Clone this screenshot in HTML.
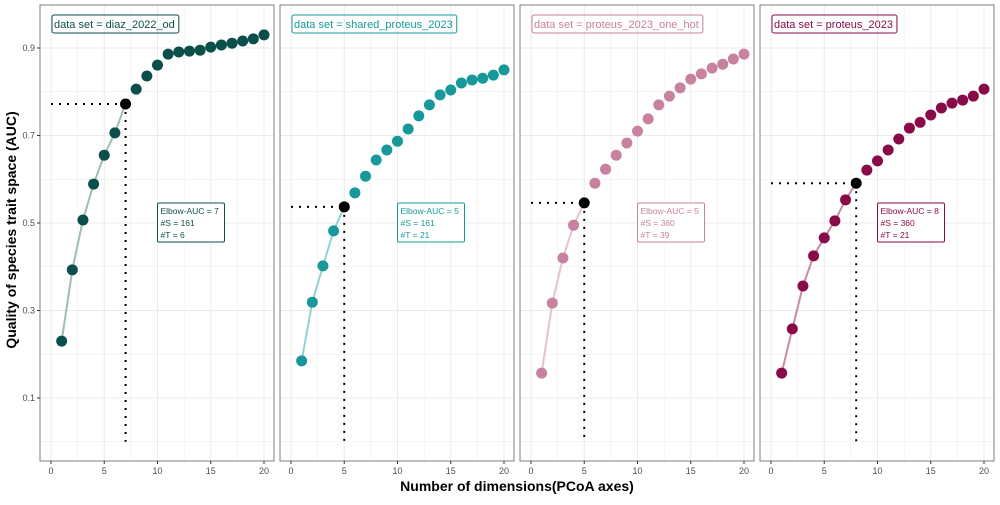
<!DOCTYPE html>
<html><head><meta charset="utf-8"><style>
body{margin:0;background:#fff;font-family:"Liberation Sans",sans-serif;}
svg text{font-family:"Liberation Sans",sans-serif;}
</style></head><body>
<svg id="chart" width="1000" height="500" xmlns="http://www.w3.org/2000/svg">
<text x="0" y="0" transform="translate(16,230) rotate(-90)" text-anchor="middle" font-size="14" font-weight="bold" fill="#000">Quality of species trait space (AUC)</text>
<text x="517" y="491" text-anchor="middle" font-size="14" font-weight="bold" fill="#000">Number of dimensions(PCoA axes)</text>
</svg>
<script>
const datasets = ["diaz_2022_od","shared_proteus_2023","proteus_2023_one_hot","proteus_2023"];
const dims = [1,2,3,4,5,6,7,8,9,10,11,12,13,14,15,16,17,18,19,20];
const aucDiaz = [0.230,0.393,0.507,0.589,0.655,0.706,0.772,0.806,0.836,0.861,0.886,0.891,0.893,0.895,0.902,0.907,0.911,0.916,0.921,0.930];
const aucShared = [0.185,0.319,0.402,0.482,0.537,0.569,0.607,0.644,0.667,0.687,0.715,0.745,0.770,0.793,0.804,0.820,0.827,0.831,0.838,0.850];
const aucOneHot = [0.157,0.317,0.420,0.495,0.546,0.591,0.623,0.655,0.683,0.710,0.738,0.770,0.790,0.809,0.829,0.841,0.854,0.863,0.875,0.886];
const aucProteus = [0.157,0.258,0.356,0.425,0.466,0.505,0.553,0.591,0.621,0.642,0.667,0.692,0.717,0.730,0.747,0.763,0.774,0.781,0.790,0.806];
const elbows = [7,5,5,8];
const nSpecies = [161,161,360,360];
const nTraits = [6,21,39,21];
const yTicks = [0.1,0.3,0.5,0.7,0.9];
const xTicks = [0,5,10,15,20];

const series=[aucDiaz,aucShared,aucOneHot,aucProteus];
const dark=["#0b4f4b","#17999b","#c8819f","#8a0a47"];
const light=["#9dbdb9","#8fd4d4","#e6c2d1","#c58ba7"];
const svg=document.getElementById('chart');
const NS="http://www.w3.org/2000/svg";
function mk(tag,attrs,parent){const e=document.createElementNS(NS,tag);for(const k in attrs)e.setAttribute(k,attrs[k]);(parent||svg).appendChild(e);return e;}
const panelL=[40,280,520,760], panelW=234, pTop=5, pBot=461;
function yS(v){return 48+(0.9-v)*437.5;}
function xS(p,d){return panelL[p]+11+d*10.65;}
for(let p=0;p<4;p++){
  const g=mk('g',{});
  
  
  mk('rect',{x:panelL[p],y:pTop,width:panelW,height:pBot-pTop,fill:'#fff'},g);
  for(let k=0;k<=10;k++){const v=k/10;const y=yS(v);if(y<pTop||y>pBot)continue;
    const major=k%2===1;
    mk('line',{x1:panelL[p],x2:panelL[p]+panelW,y1:y,y2:y,stroke:'#ebebeb','stroke-width':major?1:0.5},g);}
  for(let d=0;d<=20;d+=2.5){const x=xS(p,d);mk('line',{x1:x,x2:x,y1:pTop,y2:pBot,stroke:'#ebebeb','stroke-width':d%5===0?1:0.5},g);}
  const data=series[p], e=elbows[p];
  const ex=xS(p,e), ey=yS(data[e-1]);
  const hl=mk('line',{x1:xS(p,0),x2:ex,y1:ey,y2:ey,stroke:'#000','stroke-width':2,'stroke-dasharray':'2,6'},g);
  
  
  const vl=mk('line',{x1:ex,x2:ex,y1:ey,y2:yS(0),stroke:'#000','stroke-width':2,'stroke-dasharray':'2,6'},g);
  
  
  let pts=[];for(let i=0;i<e;i++)pts.push(xS(p,dims[i])+','+yS(data[i]));
  const pl=mk('polyline',{points:pts.join(' '),fill:'none',stroke:light[p],'stroke-width':2},g);
  
  
  for(let i=0;i<dims.length;i++){
    const isE=dims[i]===e;
    const c=mk('circle',{cx:xS(p,dims[i]),cy:yS(data[i]),r:5.5,fill:isE?'#000':dark[p]},g);
    
    
  }
  const bx=xS(p,10), by=203;
  const br=mk('rect',{x:bx,y:by,width:67,height:39,rx:1.5,fill:'#fff',stroke:dark[p],'stroke-width':1},g);
  
  
  const lines=['Elbow-AUC = '+e,'#S = '+nSpecies[p],'#T = '+nTraits[p]];
  lines.forEach((s,k)=>{const t=mk('text',{x:bx+3,y:by+11+k*12,'font-size':8.5,fill:dark[p]},g);t.textContent=s;
    
    });
  const lt=mk('text',{x:panelL[p]+14,y:28,'font-size':11,fill:dark[p]},g);
  lt.textContent='data set = '+datasets[p];
  
  
  let w=0;try{w=lt.getComputedTextLength();}catch(err){w=lt.textContent.length*6;}
  if(!w)w=lt.textContent.length*6;
  const lr=mk('rect',{x:panelL[p]+12,y:15,width:w+6,height:18,rx:2,fill:'none',stroke:dark[p],'stroke-width':1},g);
  
  
  mk('rect',{x:panelL[p],y:pTop,width:panelW,height:pBot-pTop,fill:'none',stroke:'#7f7f7f','stroke-width':1},g);
  xTicks.forEach(d=>{const x=xS(p,d);mk('line',{x1:x,x2:x,y1:pBot,y2:pBot+3,stroke:'#333'},g);
    const t=mk('text',{x:x,y:pBot+13,'font-size':9,'text-anchor':'middle',fill:'#4d4d4d'},g);t.textContent=d;
    
    });
}
yTicks.forEach(v=>{const y=yS(v);mk('line',{x1:37,x2:40,y1:y,y2:y,stroke:'#333'});
  const t=mk('text',{x:35,y:y+3,'font-size':9,'text-anchor':'end',fill:'#4d4d4d'});t.textContent=v;
  
  });
</script>
</body></html>
